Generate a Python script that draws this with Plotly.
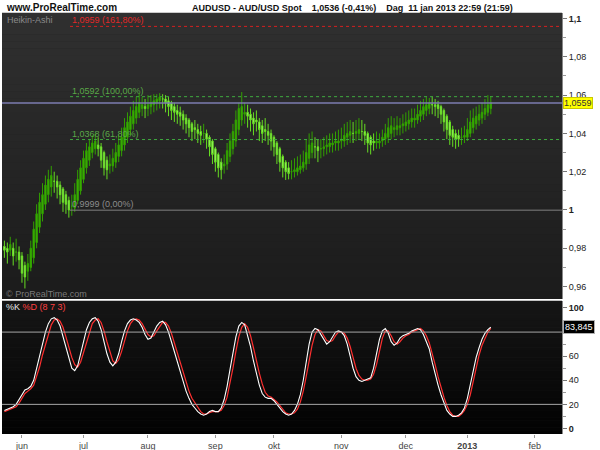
import plotly.graph_objects as go

# ---------------- data ----------------
bar_index = list(range(167))  # trading-day index, 0 = 24 May 2012, 166 = 11 Jan 2013

ha_open = [
 .981,.980,.979,.980,.978,.978,.976,.971,.968,.970,
 .975,.983,.991,.998,1.003,1.008,1.012,1.015,1.015,1.013,
 1.011,1.008,1.005,1.002,1.001,1.005,1.010,1.016,1.022,1.026,
 1.030,1.032,1.034,1.033,1.030,1.026,1.023,1.023,1.025,1.028,
 1.031,1.034,1.038,1.042,1.045,1.048,1.051,1.053,1.054,1.053,
 1.054,1.055,1.056,1.057,1.058,1.058,1.057,1.056,1.054,1.052,
 1.051,1.050,1.048,1.047,1.045,1.043,1.042,1.041,1.040,1.040,
 1.038,1.036,1.032,1.029,1.025,1.023,1.024,1.028,1.032,1.036,
 1.042,1.047,1.050,1.051,1.050,1.048,1.047,1.046,1.044,1.042,
 1.041,1.040,1.038,1.035,1.032,1.028,1.025,1.022,1.020,1.020,
 1.020,1.021,1.022,1.024,1.027,1.030,1.033,1.033,1.032,1.032,
 1.033,1.033,1.034,1.035,1.035,1.036,1.036,1.038,1.039,1.040,
 1.040,1.040,1.041,1.041,1.040,1.038,1.036,1.035,1.035,1.036,
 1.037,1.038,1.040,1.042,1.042,1.043,1.044,1.044,1.045,1.046,
 1.047,1.047,1.049,1.050,1.052,1.053,1.055,1.055,1.055,1.054,
 1.052,1.049,1.046,1.042,1.040,1.039,1.038,1.038,1.038,1.040,
 1.043,1.045,1.047,1.048,1.050,1.051,1.053]
ha_high = [
 .984,.983,.986,.983,.985,.981,.978,.973,.977,.984,
 .994,1.003,1.009,1.014,1.018,1.021,1.023,1.020,1.018,1.015,
 1.012,1.010,1.007,1.008,1.014,1.021,1.026,1.031,1.035,1.037,
 1.039,1.040,1.038,1.035,1.031,1.028,1.029,1.032,1.035,1.039,
 1.043,1.048,1.051,1.054,1.057,1.059,1.061,1.059,1.058,1.060,
 1.060,1.0605,1.0605,1.061,1.0605,1.060,1.059,1.057,1.056,1.055,
 1.054,1.052,1.050,1.048,1.046,1.047,1.045,1.044,1.045,1.042,
 1.039,1.037,1.033,1.030,1.027,1.029,1.035,1.040,1.045,1.052,
 1.056,1.0616,1.056,1.055,1.053,1.051,1.052,1.048,1.047,1.048,
 1.045,1.042,1.039,1.036,1.033,1.029,1.026,1.025,1.026,1.027,
 1.028,1.029,1.031,1.037,1.040,1.041,1.038,1.037,1.037,1.038,
 1.039,1.040,1.040,1.041,1.042,1.043,1.045,1.046,1.047,1.046,
 1.047,1.048,1.047,1.045,1.041,1.039,1.040,1.041,1.040,1.042,
 1.045,1.048,1.049,1.048,1.049,1.048,1.050,1.051,1.052,1.053,
 1.053,1.055,1.057,1.058,1.059,1.0585,1.059,1.058,1.057,1.055,
 1.053,1.050,1.047,1.044,1.042,1.042,1.043,1.044,1.048,1.052,
 1.053,1.054,1.055,1.056,1.058,1.060,1.0595]
ha_low = [
 .975,.972,.976,.971,.973,.969,.962,.959,.963,.968,
 .972,.980,.988,.994,1.000,1.004,1.007,1.009,1.006,1.003,
 .999,.998,.996,.997,.999,1.003,1.008,1.014,1.019,1.023,
 1.027,1.029,1.028,1.022,1.018,1.016,1.019,1.020,1.022,1.025,
 1.028,1.031,1.035,1.039,1.042,1.045,1.048,1.049,1.048,1.049,
 1.050,1.051,1.052,1.053,1.053,1.051,1.049,1.047,1.046,1.045,
 1.044,1.042,1.040,1.038,1.036,1.037,1.035,1.034,1.035,1.032,
 1.028,1.024,1.020,1.017,1.016,1.019,1.021,1.025,1.029,1.033,
 1.039,1.044,1.045,1.043,1.041,1.039,1.041,1.036,1.035,1.036,
 1.034,1.031,1.028,1.024,1.020,1.017,1.0157,1.016,1.016,1.017,
 1.018,1.019,1.020,1.021,1.024,1.027,1.027,1.025,1.027,1.028,
 1.029,1.030,1.030,1.031,1.031,1.032,1.033,1.034,1.035,1.035,
 1.036,1.037,1.036,1.034,1.030,1.029,1.031,1.032,1.032,1.033,
 1.034,1.035,1.037,1.038,1.039,1.039,1.040,1.041,1.042,1.043,
 1.043,1.045,1.046,1.047,1.049,1.050,1.050,1.049,1.048,1.045,
 1.041,1.037,1.034,1.033,1.032,1.033,1.034,1.035,1.036,1.038,
 1.040,1.042,1.044,1.045,1.047,1.049,1.050]
ha_close = [
 .979,.978,.982,.976,.978,.974,.967,.965,.972,.980,
 .990,.998,1.004,1.008,1.013,1.016,1.018,1.015,1.012,1.008,
 1.004,1.003,1.000,1.002,1.008,1.016,1.022,1.027,1.031,1.033,
 1.035,1.036,1.032,1.026,1.022,1.021,1.024,1.027,1.030,1.034,
 1.038,1.043,1.046,1.049,1.052,1.054,1.056,1.055,1.053,1.055,
 1.056,1.057,1.058,1.059,1.058,1.056,1.054,1.052,1.051,1.050,
 1.049,1.047,1.045,1.043,1.041,1.042,1.040,1.039,1.040,1.037,
 1.033,1.029,1.025,1.022,1.021,1.024,1.031,1.036,1.041,1.047,
 1.053,1.054,1.051,1.049,1.047,1.045,1.046,1.042,1.040,1.041,
 1.039,1.036,1.033,1.029,1.025,1.022,1.020,1.019,1.020,1.021,
 1.022,1.023,1.025,1.030,1.034,1.035,1.033,1.031,1.032,1.033,
 1.034,1.035,1.035,1.036,1.036,1.037,1.039,1.040,1.041,1.040,
 1.041,1.042,1.041,1.039,1.035,1.034,1.035,1.036,1.036,1.038,
 1.040,1.043,1.044,1.043,1.044,1.044,1.045,1.046,1.047,1.048,
 1.048,1.050,1.052,1.054,1.055,1.056,1.055,1.054,1.053,1.050,
 1.046,1.042,1.039,1.038,1.037,1.037,1.038,1.039,1.042,1.046,
 1.048,1.049,1.050,1.051,1.053,1.055,1.056]

stoch_k = [
 15,16,17,18,20,24,29,32,33,35,
 40,50,60,70,80,87,91,92,90,85,
 76,66,57,50,48,52,62,72,82,88,
 91,92,89,82,72,62,55,52,55,62,
 72,81,87,90,91,90,88,84,78,74,
 75,80,85,88,89,86,80,72,64,55,
 46,38,31,25,20,17,14,12,11,12,
 14,15,14,14,17,24,35,49,63,76,
 85,88,86,78,68,56,45,36,29,26,
 25,25,23,20,17,14,12,11,12,15,
 20,28,40,55,70,80,83,82,78,73,
 70,72,76,80,81,80,77,70,60,50,
 43,40,39,40,41,42,50,62,74,81,
 83,79,72,69,71,75,77,78,79,81,
 82,83,82,78,72,66,55,45,36,28,
 21,15,12,10,10,11,13,17,25,36,
 48,59,67,74,79,82,84]
stoch_d = [
 14,15,16,17,18,21,25,29,31,33,
 36,43,51,61,70,79,86,90,91,89,
 84,76,67,59,53,51,55,63,72,81,
 87,90,91,88,81,72,63,56,54,57,
 64,73,81,87,90,91,90,87,83,78,
 76,77,81,85,88,88,85,79,71,63,
 55,46,38,31,25,21,17,14,12,12,
 13,14,14,14,15,19,26,37,50,64,
 76,84,87,84,77,67,56,46,37,30,
 27,26,24,22,19,16,13,12,12,13,
 16,22,31,43,57,69,78,82,81,77,
 73,72,73,77,80,80,79,75,68,59,
 50,44,41,40,40,41,45,53,64,75,
 81,81,77,72,70,72,75,77,78,80,
 81,82,83,81,77,71,63,53,43,34,
 26,19,14,11,10,10,12,15,20,28,
 39,51,61,69,75,80,83]

month_ticks = [6, 27, 49, 72, 92, 115, 137, 158, 181]
month_labels = ["jun", "jul", "aug", "sep", "okt", "nov", "dec", "<b>2013</b>", "feb"]

price_ticks = [0.96, 0.98, 1.0, 1.02, 1.04, 1.06, 1.08, 1.1]
price_labels = ["0,96", "0,98", "<b>1</b>", "1,02", "1,04", "1,06", "1,08", "<b>1,1</b>"]
stoch_ticks = [0, 20, 40, 60, 100]
stoch_labels = ["<b>0</b>", "20", "40", "60", "<b>100</b>"]

fib_levels = [1.0959, 1.0592, 1.0368, 0.9999]
fib_labels = ["1,0959 (161,80%)", "1,0592 (100,00%)", "1,0368 (61,80%)", "0,9999 (0,00%)"]
fib_start = 22.4
last_price = 1.0559
last_price_label = "1,0559"
last_stoch = 83.845
last_stoch_label = "83,845"
stoch_levels = [80, 20]

# ---------------- layout geometry ----------------
W, H = 600, 450
ML, MR, MT, MB = 2, 38, 13, 16
PW, PH = W - ML - MR, H - MT - MB
def px(x):
    return (x - ML) / PW
def py(y):
    return (H - MB - y) / PH

main_dom = [py(299), 1.0]
stoch_dom = [0.0, py(301)]
x_range = [-0.82, 190.3]
FONT = "Liberation Sans, Arial, sans-serif"

fig = go.Figure()

fig.add_trace(go.Candlestick(
    x=bar_index, open=ha_open, high=ha_high, low=ha_low, close=ha_close,
    xaxis="x2", yaxis="y",
    increasing=dict(line=dict(color="#32a000", width=1), fillcolor="#3cb800"),
    decreasing=dict(line=dict(color="#66dd22", width=1), fillcolor="#b4ff80"),
    whiskerwidth=0, showlegend=False, hoverinfo="skip"))

fig.add_trace(go.Scatter(x=bar_index, y=stoch_d, mode="lines", xaxis="x", yaxis="y2",
                         line=dict(color="#ff3030", width=1.2), showlegend=False, hoverinfo="skip"))
fig.add_trace(go.Scatter(x=bar_index, y=stoch_k, mode="lines", xaxis="x", yaxis="y2",
                         line=dict(color="#ffffff", width=1.1), showlegend=False, hoverinfo="skip"))

shapes = []
# gradient backgrounds
def lerp(c1, c2, t):
    return "rgb(%d,%d,%d)" % tuple(round(a + (b - a) * t) for a, b in zip(c1, c2))
N = 40
for k in range(N):
    t = k / (N - 1)
    shapes.append(dict(type="rect", xref="paper", yref="y domain", x0=0, x1=1,
                       y0=1 - (k + 1) / N, y1=1 - k / N + 0.001, layer="below",
                       line=dict(width=0), fillcolor=lerp((48, 48, 48), (27, 27, 27), t)))
    shapes.append(dict(type="rect", xref="paper", yref="y2 domain", x0=0, x1=1,
                       y0=1 - (k + 1) / N, y1=1 - k / N + 0.001, layer="below",
                       line=dict(width=0), fillcolor=lerp((22, 22, 22), (2, 2, 2), t)))

fib_colors = ["#d42020", "#3faa3f", "#3faa3f", "#808080"]
fib_dash = ["dot", "dot", "dot", "solid"]
for lvl, col, dash in zip(fib_levels, fib_colors, fib_dash):
    shapes.append(dict(type="line", xref="x2", yref="y", x0=fib_start, x1=x_range[1],
                       y0=lvl, y1=lvl, line=dict(color=col, width=1, dash=dash)))
shapes.append(dict(type="line", xref="x2 domain", yref="y", x0=0, x1=1,
                   y0=last_price, y1=last_price, line=dict(color="#7c7cb0", width=1.5)))
for lvl in stoch_levels:
    shapes.append(dict(type="line", xref="x domain", yref="y2", x0=0, x1=1,
                       y0=lvl, y1=lvl, line=dict(color="#a8a8a8", width=1)))

ann = []
ann.append(dict(text="<b>www.ProRealTime.com</b>", xref="paper", yref="paper", x=px(4), y=py(8),
                xanchor="left", yanchor="middle", showarrow=False, font=dict(family=FONT, size=10, color="#111")))
ann.append(dict(text="<b>AUDUSD - AUD/USD Spot&nbsp;&nbsp;&nbsp; 1,0536 (-0,41%)&nbsp;&nbsp;&nbsp; Dag&nbsp; 11 jan 2013 22:59 (21:59)</b>",
                xref="paper", yref="paper", x=px(352), y=py(8), xanchor="center", yanchor="middle",
                showarrow=False, font=dict(family=FONT, size=9, color="#111")))
ann.append(dict(text="Heikin-Ashi", xref="paper", yref="paper", x=px(5), y=py(20), xanchor="left",
                yanchor="middle", showarrow=False, font=dict(family=FONT, size=9, color="#8a8a8a")))
ann.append(dict(text="© ProRealTime.com", xref="paper", yref="paper", x=px(4), y=py(294), xanchor="left",
                yanchor="middle", showarrow=False, font=dict(family=FONT, size=9, color="#7a7a7a")))
ann.append(dict(text='<span style="color:#e8e8e8">%K</span> <span style="color:#ff4040">%D (8 7 3)</span>',
                xref="paper", yref="paper", x=px(4), y=py(307), xanchor="left", yanchor="middle",
                showarrow=False, font=dict(family=FONT, size=9)))
fib_label_colors = ["#e02828", "#5aa848", "#5aa848", "#8c8c8c"]
for lvl, lab, col in zip(fib_levels, fib_labels, fib_label_colors):
    ann.append(dict(text=lab, xref="x2", yref="y", x=fib_start, y=lvl, xanchor="left", yanchor="bottom",
                    yshift=-1, showarrow=False, font=dict(family=FONT, size=9, color=col)))
ann.append(dict(text=last_price_label, xref="paper", yref="y", x=px(563), y=last_price, xanchor="left",
                yanchor="middle", showarrow=False, bgcolor="#ffff00", bordercolor="#c8c800", borderwidth=1,
                borderpad=0, font=dict(family=FONT, size=9, color="#333")))
ann.append(dict(text=last_stoch_label, xref="paper", yref="y2", x=px(563), y=last_stoch, xanchor="left",
                yanchor="middle", showarrow=False, bgcolor="#000000", bordercolor="#b0b0b0", borderwidth=1,
                borderpad=1, font=dict(family=FONT, size=9, color="#ffffff")))

axis_common = dict(showgrid=False, zeroline=False, fixedrange=True)
fig.update_layout(
    width=W, height=H, margin=dict(l=ML, r=MR, t=MT, b=MB, autoexpand=False),
    paper_bgcolor="#ffffff", plot_bgcolor="#1e1e1e",
    font=dict(family=FONT, size=9, color="#333"),
    showlegend=False,
    xaxis=dict(domain=[0, 1], range=x_range, anchor="y2", tickmode="array", tickvals=month_ticks,
               ticktext=month_labels, ticks="outside", ticklen=3, tickcolor="#999",
               tickfont=dict(family=FONT, size=9, color="#444"), showline=False, **axis_common),
    xaxis2=dict(domain=[0, 1], range=x_range, anchor="y", matches="x", showticklabels=False,
                rangeslider=dict(visible=False), ticks="", **axis_common),
    yaxis=dict(domain=main_dom, range=[0.9535, 1.1029], anchor="x2", side="right",
               tickmode="array", tickvals=price_ticks, ticktext=price_labels, ticks="outside",
               ticklen=4, tickcolor="#777", showline=True, linecolor="#888", linewidth=1,
               minor=dict(tickvals=[0.97, 0.99, 1.01, 1.03, 1.05, 1.07, 1.09], ticks="outside",
                          ticklen=3, tickcolor="#999"),
               tickfont=dict(family=FONT, size=9, color="#222"), **axis_common),
    yaxis2=dict(domain=stoch_dom, range=[-4.6, 105.8], anchor="x", side="right",
                tickmode="array", tickvals=stoch_ticks, ticktext=stoch_labels, ticks="outside",
                ticklen=4, tickcolor="#777", showline=True, linecolor="#888", linewidth=1,
                minor=dict(tickvals=[10, 30, 50, 70, 90], ticks="outside", ticklen=3, tickcolor="#999"),
                tickfont=dict(family=FONT, size=9, color="#222"), **axis_common),
    shapes=shapes, annotations=ann,
)

fig.write_html("out.html", config={"displayModeBar": False, "staticPlot": True},
               post_script="document.body.style.margin='0';document.body.style.overflow='hidden';")
